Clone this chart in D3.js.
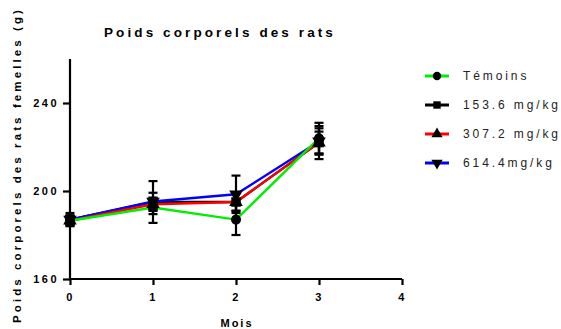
<!DOCTYPE html>
<html>
<head>
<meta charset="utf-8">
<title>Poids corporels des rats</title>
<script src="https://d3js.org/d3.v7.min.js"></script>
<style>
  body { margin: 0; background: #fff; }
  text { font-family: "Liberation Sans", Arial, sans-serif; }
</style>
</head>
<body>
<div id="chart"></div>
<script>
// data (mean and error per month)
var months = [0, 1, 2, 3];
var xTicks = [0, 1, 2, 3, 4];
var yTicks = [160, 200, 240];
var seriesNames = ["Témoins", "153.6 mg/kg", "307.2 mg/kg", "614.4mg/kg"];
var temoins = [186.5, 192.5, 187, 224];
var temoinsErr = [2, 3, 7, 7];
var dose1 = [187, 195, 195, 222];
var dose1Err = [3, 9.5, 4, 7.5];
var dose2 = [186.5, 194, 195, 222];
var dose2Err = [2, 3, 4, 5];
var dose3 = [187, 195.2, 198.5, 222.5];
var dose3Err = [2, 4, 8.5, 6];

var W = 561, H = 329;
var margin = {top: 59, left: 70};
var plotW = 332, plotH = 220;

var svg = d3.select("#chart").append("svg")
  .attr("width", W).attr("height", H);

var x = d3.scaleLinear().domain([0, 4]).range([margin.left, margin.left + plotW]);
var y = d3.scaleLinear().domain([160, 260]).range([margin.top + plotH, margin.top]);

var series = [
  {name: seriesNames[1], values: dose1, err: dose1Err, color: "#000000", shape: "square"},
  {name: seriesNames[3], values: dose3, err: dose3Err, color: "#0000ff", shape: "down"},
  {name: seriesNames[2], values: dose2, err: dose2Err, color: "#ff0000", shape: "up"},
  {name: seriesNames[0], values: temoins, err: temoinsErr, color: "#00ee00", shape: "circle"}
];
var legendOrder = [3, 0, 2, 1];

function symbolFor(shape, size) {
  if (shape === "circle") return d3.symbol().type(d3.symbolCircle).size(size)();
  if (shape === "square") return d3.symbol().type(d3.symbolSquare).size(size)();
  return d3.symbol().type(d3.symbolTriangle).size(size)();
}

// axes
var xAxis = svg.append("g")
  .attr("transform", "translate(0," + (margin.top + plotH) + ")")
  .call(d3.axisBottom(x).tickValues(xTicks).tickSize(6).tickPadding(8).tickFormat(d3.format("d")));
var yAxis = svg.append("g")
  .attr("transform", "translate(" + margin.left + ",0)")
  .call(d3.axisLeft(y).tickValues(yTicks).tickSize(7).tickPadding(4).tickFormat(d3.format("d")));

[xAxis, yAxis].forEach(function (g) {
  g.select(".domain").attr("stroke", "#000").attr("stroke-width", 2.2);
  g.selectAll(".tick line").attr("stroke", "#000").attr("stroke-width", 2.2);
  g.selectAll(".tick text")
    .attr("fill", "#000")
    .style("font-size", "11px")
    .style("font-weight", "bold")
    .style("letter-spacing", "2.5px");
});
yAxis.select(".domain").attr("d", "M0," + y(260) + "V" + y(160));
xAxis.select(".domain").attr("d", "M" + x(0) + ",0H" + x(4));

// lines
var line = d3.line()
  .x(function (d, i) { return x(months[i]); })
  .y(function (d) { return y(d); });

series.forEach(function (s) {
  svg.append("path")
    .datum(s.values)
    .attr("fill", "none")
    .attr("stroke", s.color)
    .attr("stroke-width", 2.4)
    .attr("d", line);
});

// error bars and markers (black)
series.forEach(function (s) {
  var g = svg.append("g");
  s.values.forEach(function (v, i) {
    var cx = x(months[i]);
    var lo = y(v - s.err[i]), hi = y(v + s.err[i]);
    g.append("line").attr("x1", cx).attr("x2", cx).attr("y1", lo).attr("y2", hi)
      .attr("stroke", "#000").attr("stroke-width", 2.2);
    [lo, hi].forEach(function (yy) {
      g.append("line").attr("x1", cx - 4.5).attr("x2", cx + 4.5).attr("y1", yy).attr("y2", yy)
        .attr("stroke", "#000").attr("stroke-width", 2.2);
    });
    g.append("path")
      .attr("d", symbolFor(s.shape, s.shape === "square" ? 90 : 80))
      .attr("transform", "translate(" + cx + "," + y(v) + ")" + (s.shape === "down" ? " rotate(180)" : ""))
      .attr("fill", "#000");
  });
});

// title
svg.append("text")
  .attr("x", 220).attr("y", 37)
  .attr("text-anchor", "middle")
  .style("font-size", "13.5px").style("font-weight", "bold").style("letter-spacing", "3.1px")
  .text("Poids corporels des rats");

// axis titles
svg.append("text")
  .attr("x", 237).attr("y", 327)
  .attr("text-anchor", "middle")
  .style("font-size", "11px").style("font-weight", "bold").style("letter-spacing", "2px")
  .text("Mois");

svg.append("text")
  .attr("transform", "translate(21,165) rotate(-90)")
  .attr("text-anchor", "middle")
  .style("font-size", "11.5px").style("font-weight", "bold").style("letter-spacing", "3.1px")
  .text("Poids corporels des rats femelles (g)");

// legend
var legend = svg.append("g");
legendOrder.forEach(function (k, row) {
  var s = series[k];
  var ly = 76 + row * 29;
  legend.append("line").attr("x1", 425).attr("x2", 449).attr("y1", ly).attr("y2", ly)
    .attr("stroke", s.color).attr("stroke-width", 3);
  legend.append("path")
    .attr("d", symbolFor(s.shape, 55))
    .attr("transform", "translate(437," + ly + ")" + (s.shape === "down" ? " rotate(180)" : ""))
    .attr("fill", "#000");
  legend.append("text")
    .attr("x", 463).attr("y", ly + 4)
    .style("font-size", "12px").style("letter-spacing", "2.9px")
    .attr("fill", "#222")
    .text(s.name);
});
</script>
</body>
</html>
